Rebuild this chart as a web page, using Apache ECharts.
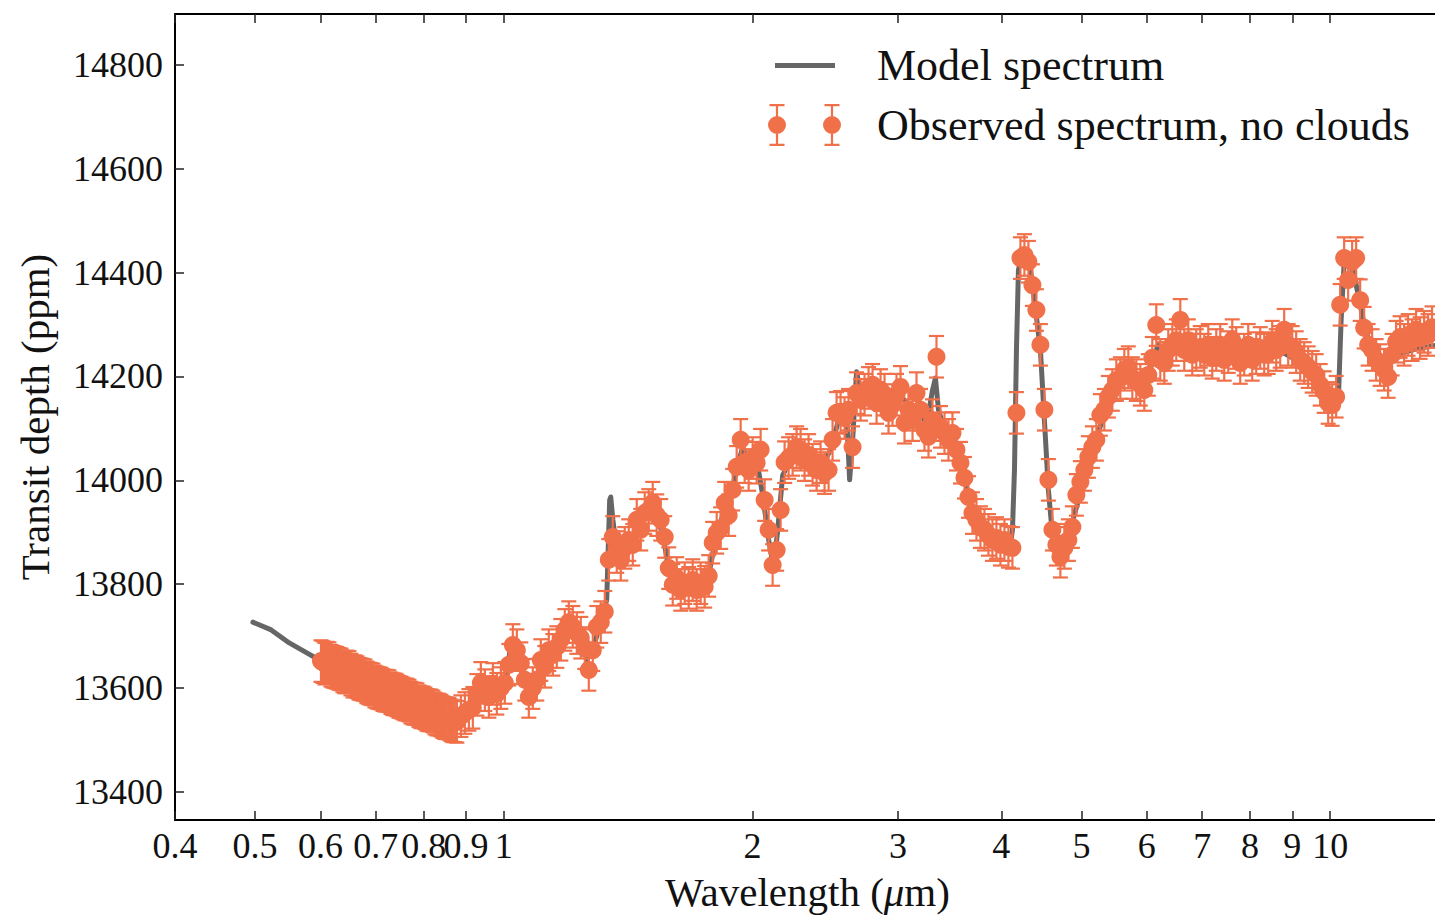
<!DOCTYPE html>
<html>
<head>
<meta charset="utf-8">
<script src="https://cdn.jsdelivr.net/npm/echarts@6/dist/echarts.min.js"></script>
<style>
html, body { margin: 0; padding: 0; background: #ffffff; }
#chart { width: 1435px; height: 915px; }
</style>
</head>
<body>
<div id="chart"></div>
<script>
// ---------------- data ----------------
const MODEL_NAME = 'Model spectrum';
const OBS_NAME = 'Observed spectrum, no clouds';

const MODEL_WL = [
  0.497, 0.523, 0.550, 0.589, 0.635, 0.710, 0.794, 0.851, 0.877, 0.897,
  0.912, 0.933, 0.954, 0.975, 0.997, 1.008, 1.017, 1.028, 1.043, 1.060,
  1.078, 1.096, 1.108, 1.133, 1.159, 1.185, 1.205, 1.232, 1.260, 1.281,
  1.310, 1.332, 1.343, 1.347, 1.355, 1.370, 1.401, 1.432, 1.465, 1.497,
  1.531, 1.557, 1.583, 1.619, 1.674, 1.731, 1.770, 1.799, 1.840, 1.882,
  1.913, 1.945, 1.978, 2.023, 2.057, 2.092, 2.121, 2.145, 2.175, 2.224,
  2.286, 2.351, 2.417, 2.486, 2.541, 2.599, 2.621, 2.643, 2.672, 2.702,
  2.778, 2.857, 2.937, 3.020, 3.106, 3.193, 3.247, 3.302, 3.329, 3.357,
  3.414, 3.491, 3.569, 3.650, 3.732, 3.837, 3.946, 4.057, 4.103, 4.126,
  4.149, 4.172, 4.195, 4.218, 4.290, 4.338, 4.386, 4.460, 4.510, 4.560,
  4.612, 4.689, 4.768, 4.848, 4.958, 5.069, 5.184, 5.300, 5.420, 5.573,
  5.730, 5.892, 6.024, 6.092, 6.195, 6.334, 6.513, 6.697, 6.963, 7.260,
  7.570, 7.892, 8.229, 8.508, 8.749, 8.996, 9.250, 9.511, 9.726, 9.945,
  10.11, 10.23, 10.31, 10.40, 10.51, 10.69, 10.87, 11.05, 11.30, 11.56,
  11.88, 12.32, 12.85, 13.58
];
const MODEL_DEPTH = [
  13727, 13712, 13687, 13660, 13637, 13600, 13566, 13544, 13539, 13546,
  13568, 13593, 13587, 13596, 13596, 13616, 13673, 13683, 13654, 13606,
  13591, 13616, 13654, 13673, 13683, 13712, 13722, 13708, 13654, 13673,
  13727, 13770, 13962, 13968, 13924, 13866, 13860, 13885, 13928, 13947,
  13933, 13895, 13831, 13802, 13793, 13799, 13818, 13876, 13933, 13972,
  14020, 14064, 14035, 14039, 13972, 13885, 13831, 13905, 14010, 14039,
  14055, 14039, 14024, 14059, 14116, 14126, 14001, 14078, 14209, 14170,
  14178, 14170, 14159, 14165, 14136, 14132, 14107, 14174, 14197, 14136,
  14097, 14082, 14036, 13972, 13928, 13905, 13885, 13876, 13876, 13905,
  14020, 14251, 14405, 14421, 14424, 14405, 14347, 14251, 14116, 13982,
  13895, 13862, 13866, 13905, 13962, 14010, 14068, 14116, 14155, 14184,
  14203, 14193, 14193, 14232, 14261, 14247, 14261, 14265, 14251, 14247,
  14245, 14243, 14251, 14255, 14247, 14236, 14228, 14213, 14184, 14145,
  14136, 14155, 14309, 14421, 14424, 14396, 14338, 14284, 14251, 14232,
  14232, 14247, 14255, 14261
];

const OBS_WL = [
  0.6008, 0.6042, 0.6075, 0.6109, 0.6143, 0.6177, 0.6212, 0.6247, 0.6281, 0.6316,
  0.6352, 0.6387, 0.6423, 0.6459, 0.6495, 0.6531, 0.6568, 0.6605, 0.6641, 0.6678,
  0.6715, 0.6752, 0.6790, 0.6828, 0.6866, 0.6904, 0.6943, 0.6982, 0.7021, 0.7060,
  0.7101, 0.7141, 0.7181, 0.7221, 0.7261, 0.7302, 0.7342, 0.7383, 0.7424, 0.7465,
  0.7508, 0.7550, 0.7592, 0.7634, 0.7677, 0.7720, 0.7763, 0.7806, 0.7850, 0.7894,
  0.7937, 0.7981, 0.8026, 0.8071, 0.8116, 0.8161, 0.8207, 0.8253, 0.8298, 0.8344,
  0.8391, 0.8438, 0.8485, 0.8532, 0.8580, 0.8628, 0.8676, 0.8724, 0.8773,
  0.8872, 0.8971, 0.9072, 0.9173, 0.9276,
  0.9380, 0.9485, 0.9591, 0.9699, 0.9807, 0.9917, 1.0028, 1.0140, 1.0254, 1.0369,
  1.0485, 1.0602, 1.0721, 1.0841, 1.0962, 1.1085, 1.1209, 1.1335, 1.1462, 1.1590,
  1.1721, 1.1852, 1.1985, 1.2119, 1.2255, 1.2392, 1.2531, 1.2671, 1.2813, 1.2956,
  1.3101, 1.3248, 1.3396, 1.3546, 1.3698, 1.3852, 1.4007, 1.4164, 1.4323, 1.4483,
  1.4645, 1.4809, 1.4975, 1.5142, 1.5312, 1.5484, 1.5657, 1.5833, 1.6010, 1.6189,
  1.6370, 1.6553, 1.6739, 1.6926, 1.7116, 1.7307, 1.7501, 1.7697, 1.7895, 1.8096,
  1.8298, 1.8503, 1.8710, 1.8920, 1.9132, 1.9346, 1.9563, 1.9782, 2.0003, 2.0227,
  2.0454, 2.0683, 2.0915, 2.1149, 2.1386, 2.1625, 2.1867, 2.2112, 2.2360, 2.2610,
  2.2863, 2.3119, 2.3378, 2.3640, 2.3905, 2.4172, 2.4443, 2.4717, 2.4993, 2.5273,
  2.5557, 2.5843, 2.6132, 2.6425, 2.6721, 2.7020, 2.7323, 2.7629, 2.7938, 2.8251,
  2.8567, 2.8887, 2.9211, 2.9538, 2.9869, 3.0203, 3.0541, 3.0883, 3.1229, 3.1579,
  3.1932, 3.2290, 3.2651, 3.3017, 3.3387, 3.3761, 3.4139, 3.4521, 3.4908, 3.5299,
  3.5694, 3.6094, 3.6498, 3.6907, 3.7320, 3.7738, 3.8161, 3.8588, 3.9020, 3.9457,
  3.9899, 4.0346, 4.0798, 4.1255, 4.1717, 4.2184, 4.2656, 4.3134, 4.3617, 4.4105,
  4.4599, 4.5099, 4.5604, 4.6115, 4.6631, 4.7153, 4.7681, 4.8215, 4.8755, 4.9301,
  4.9853, 5.0411, 5.0976, 5.1547, 5.2124, 5.2708, 5.3298, 5.3895, 5.4499, 5.5109,
  5.5726, 5.6350, 5.6981, 5.7619, 5.8264, 5.8917, 5.9577, 6.0244, 6.0918, 6.1601,
  6.2291, 6.2989, 6.3694, 6.4407, 6.5129, 6.5858, 6.6595, 6.7341, 6.8095, 6.8858,
  6.9629, 7.0409, 7.1197, 7.1995, 7.2801, 7.3616, 7.4440, 7.5274, 7.6117, 7.6969,
  7.7831, 7.8703, 7.9584, 8.0475, 8.1377, 8.2288, 8.3210, 8.4141, 8.5084, 8.6036,
  8.7000, 8.7974, 8.8959, 8.9956, 9.0963, 9.1982, 9.3012, 9.4054, 9.5107, 9.6172,
  9.7255, 9.8344, 9.9445, 10.056, 10.168, 10.282, 10.397, 10.514, 10.631, 10.750,
  10.871, 10.993, 11.116, 11.240, 11.366, 11.493, 11.622, 11.752, 11.884, 12.017,
  12.152, 12.288, 12.425, 12.564, 12.705, 12.847, 12.991, 13.136, 13.283
];
const OBS_DEPTH = [
  13652, 13650, 13647, 13649, 13648, 13643, 13641, 13640, 13639, 13637,
  13636, 13632, 13630, 13632, 13631, 13626, 13622, 13623, 13621, 13618,
  13617, 13616, 13615, 13611, 13609, 13608, 13607, 13603, 13601, 13600,
  13599, 13596, 13595, 13595, 13594, 13590, 13588, 13588, 13586, 13583,
  13582, 13580, 13578, 13578, 13576, 13572, 13570, 13570, 13569, 13565,
  13563, 13563, 13561, 13558, 13557, 13557, 13555, 13551, 13549, 13549,
  13547, 13544, 13542, 13542, 13541, 13538, 13536, 13536, 13535,
  13546, 13552, 13558, 13562, 13587,
  13610, 13596, 13583, 13608, 13589, 13600, 13610, 13645, 13683, 13673,
  13648, 13616, 13583, 13600, 13616, 13654, 13641, 13673, 13664, 13679,
  13693, 13712, 13727, 13718, 13706, 13697, 13677, 13635, 13673, 13718,
  13727, 13747, 13847, 13891, 13862, 13847, 13870, 13885, 13876, 13924,
  13905, 13937, 13943, 13957, 13933, 13924, 13891, 13831, 13799, 13812,
  13789, 13802, 13793, 13808, 13789, 13802, 13795, 13816, 13880, 13899,
  13908, 13957, 13933, 13982, 14026, 14078, 14035, 14020, 14043, 14034,
  14059, 13962, 13905, 13837, 13866, 13943, 14035, 14043, 14049, 14064,
  14059, 14039, 14049, 14030, 14020, 14035, 14014, 14020, 14078, 14130,
  14132, 14120, 14136, 14064, 14168, 14155, 14165, 14178, 14184, 14149,
  14174, 14165, 14130, 14145, 14165, 14180, 14111, 14136, 14116, 14168,
  14136, 14097, 14084, 14116, 14238, 14103, 14091, 14078, 14091, 14059,
  14034, 14005, 13968, 13937, 13924, 13910, 13905, 13895, 13885, 13889,
  13876, 13885, 13872, 13870, 14130, 14428, 14434, 14421, 14376, 14328,
  14261, 14136, 14001, 13905, 13876, 13853, 13870, 13885, 13910, 13972,
  13997, 14020, 14045, 14064, 14078, 14126, 14136, 14161, 14174, 14193,
  14197, 14213, 14218, 14197, 14193, 14184, 14174, 14203, 14236, 14299,
  14232, 14226, 14251, 14261, 14270, 14309, 14251, 14270, 14242, 14251,
  14257, 14242, 14261, 14236, 14251, 14261, 14232, 14247, 14270, 14255,
  14226, 14242, 14261, 14232, 14245, 14255, 14242, 14245, 14267, 14251,
  14257, 14290, 14261, 14257, 14247, 14232, 14226, 14218, 14209, 14203,
  14184, 14170, 14149, 14145, 14161, 14338, 14428, 14386, 14421, 14428,
  14347, 14294, 14261, 14251, 14232, 14222, 14213, 14199, 14242, 14267,
  14276, 14261, 14280, 14270, 14290, 14274, 14286, 14280, 14295
];
const OBS_ERR = 40; // +/- error bar half-height (ppm), same for all points

const X_TICKS = [0.4, 0.5, 0.6, 0.7, 0.8, 0.9, 1, 2, 3, 4, 5, 6, 7, 8, 9, 10];
const Y_TICKS = [13400, 13600, 13800, 14000, 14200, 14400, 14600, 14800];
const X_RANGE = [0.4, 13.58];
const Y_RANGE = [13346, 14898];

// ---------------- styles ----------------
const FONT = '"Liberation Serif", "Times New Roman", serif';
const OBS_COLOR = '#F0704A';
const MODEL_COLOR = '#666666';
const TEXT_COLOR = '#111111';

// legend icons (104 x 44 boxes; the first two moves only fix the box size)
const MODEL_ICON = 'path://M0 0M104 44M7 20h60v5H7z';
const OBS_ICON = 'path://M0 0M104 44' +
  'M1.5 1h15v2.2h-15z M7.9 1h2.2v42H7.9z M1.5 40.8h15v2.2h-15z M18 22A9 9 0 1 1 0 22A9 9 0 1 1 18 22z' +
  'M56.5 1h15v2.2h-15z M62.9 1h2.2v42H62.9z M56.5 40.8h15v2.2h-15z M73 22A9 9 0 1 1 55 22A9 9 0 1 1 73 22z';

const obsData = OBS_WL.map((w, i) => [w, OBS_DEPTH[i]]);
const modelData = MODEL_WL.map((w, i) => [w, MODEL_DEPTH[i]]);

const tickLine = { color: '#222', width: 1.5 };
const axisLine = { show: true, onZero: false, lineStyle: { color: '#000', width: 2 } };

const chart = echarts.init(document.getElementById('chart'), null, { renderer: 'svg' });

chart.setOption({
  animation: false,
  backgroundColor: '#ffffff',
  grid: { left: 175, right: -5, top: 14, bottom: 95, containLabel: false, outerBoundsMode: 'none' },
  legend: {
    orient: 'vertical',
    left: 768,
    top: 43,
    padding: 0,
    itemGap: 16,
    itemWidth: 104,
    itemHeight: 44,
    selectedMode: false,
    itemStyle: { borderWidth: 0 },
    textStyle: { fontFamily: FONT, fontSize: 44, color: TEXT_COLOR, lineHeight: 44 },
    data: [
      { name: MODEL_NAME, icon: MODEL_ICON, itemStyle: { color: MODEL_COLOR, borderWidth: 0 } },
      { name: OBS_NAME, icon: OBS_ICON, itemStyle: { color: OBS_COLOR, borderWidth: 0 } }
    ]
  },
  xAxis: [
    {
      type: 'log', logBase: 10, min: X_RANGE[0], max: X_RANGE[1], position: 'bottom',
      axisLine: axisLine,
      axisTick: { show: true, inside: true, length: 9, customValues: X_TICKS, lineStyle: tickLine },
      minorTick: { show: false },
      splitLine: { show: false },
      axisLabel: {
        customValues: X_TICKS, hideOverlap: false, margin: 8,
        fontFamily: FONT, fontSize: 36, color: TEXT_COLOR,
        formatter: (v) => String(parseFloat(Number(v).toPrecision(3)))
      },
      name: 'Wavelength ({i|μ}m)',
      nameLocation: 'middle',
      nameGap: 51,
      nameTextStyle: {
        fontFamily: FONT, fontSize: 41, color: TEXT_COLOR,
        rich: { i: { fontFamily: FONT, fontSize: 41, fontStyle: 'italic', color: TEXT_COLOR } }
      }
    },
    {
      type: 'log', logBase: 10, min: X_RANGE[0], max: X_RANGE[1], position: 'top',
      axisLine: axisLine,
      axisTick: { show: true, inside: true, length: 9, customValues: X_TICKS, lineStyle: tickLine },
      minorTick: { show: false },
      splitLine: { show: false },
      axisLabel: { show: false }
    }
  ],
  yAxis: [
    {
      type: 'value', min: Y_RANGE[0], max: Y_RANGE[1], position: 'left',
      axisLine: axisLine,
      axisTick: { show: true, inside: true, length: 9, customValues: Y_TICKS, lineStyle: tickLine },
      splitLine: { show: false },
      axisLabel: {
        customValues: Y_TICKS, hideOverlap: false, margin: 12,
        fontFamily: FONT, fontSize: 36, color: TEXT_COLOR,
        formatter: (v) => String(Math.round(v))
      },
      name: 'Transit depth (ppm)',
      nameLocation: 'middle',
      nameRotate: 90,
      nameGap: 120,
      nameTextStyle: { fontFamily: FONT, fontSize: 41, color: TEXT_COLOR }
    }
  ],
  series: [
    {
      name: MODEL_NAME,
      type: 'line',
      xAxisIndex: 0, yAxisIndex: 0,
      data: modelData,
      symbol: 'none',
      showSymbol: false,
      silent: true,
      z: 2,
      lineStyle: { color: MODEL_COLOR, width: 5, join: 'round', cap: 'round' },
      itemStyle: { color: MODEL_COLOR }
    },
    {
      name: OBS_NAME,
      type: 'custom',
      xAxisIndex: 0, yAxisIndex: 0,
      data: obsData,
      encode: { x: 0, y: 1 },
      silent: true,
      z: 3,
      itemStyle: { color: OBS_COLOR },
      renderItem: function (params, api) {
        const x = api.value(0);
        const y = api.value(1);
        const top = api.coord([x, y + OBS_ERR]);
        const bot = api.coord([x, y - OBS_ERR]);
        const cap = 7.5;
        const st = { stroke: OBS_COLOR, lineWidth: 2.2, fill: null };
        return {
          type: 'group',
          children: [
            { type: 'line', shape: { x1: top[0], y1: top[1], x2: bot[0], y2: bot[1] }, style: st },
            { type: 'line', shape: { x1: top[0] - cap, y1: top[1], x2: top[0] + cap, y2: top[1] }, style: st },
            { type: 'line', shape: { x1: bot[0] - cap, y1: bot[1], x2: bot[0] + cap, y2: bot[1] }, style: st }
          ]
        };
      }
    },
    {
      name: OBS_NAME,
      type: 'scatter',
      xAxisIndex: 0, yAxisIndex: 0,
      data: obsData,
      symbol: 'circle',
      symbolSize: 18,
      silent: true,
      z: 4,
      itemStyle: { color: OBS_COLOR, opacity: 1 }
    }
  ]
});
</script>
</body>
</html>
